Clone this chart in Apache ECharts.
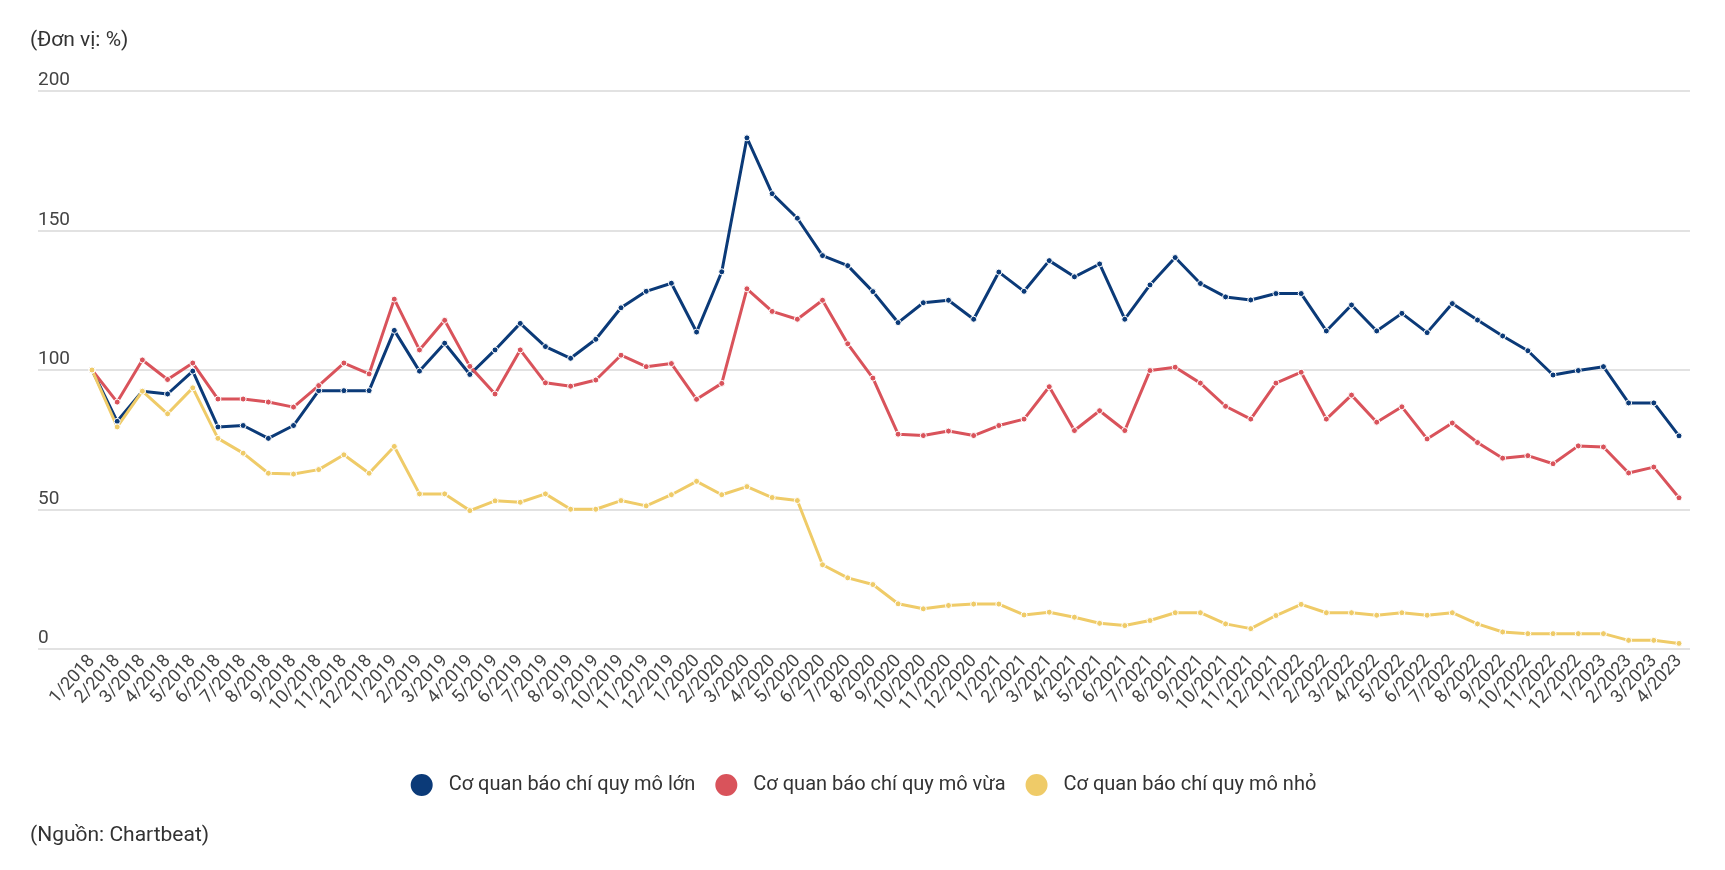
<!DOCTYPE html>
<html>
<head>
<meta charset="utf-8">
<script src="https://cdn.jsdelivr.net/npm/echarts@6/dist/echarts.min.js"></script>
<style>
html,body{margin:0;padding:0;background:#fff;}
#c{width:1725px;height:870px;}
</style>
</head>
<body>
<div id="c"></div>
<script>
const categories = [
 "1/2018","2/2018","3/2018","4/2018","5/2018","6/2018","7/2018","8/2018","9/2018","10/2018","11/2018","12/2018",
 "1/2019","2/2019","3/2019","4/2019","5/2019","6/2019","7/2019","8/2019","9/2019","10/2019","11/2019","12/2019",
 "1/2020","2/2020","3/2020","4/2020","5/2020","6/2020","7/2020","8/2020","9/2020","10/2020","11/2020","12/2020",
 "1/2021","2/2021","3/2021","4/2021","5/2021","6/2021","7/2021","8/2021","9/2021","10/2021","11/2021","12/2021",
 "1/2022","2/2022","3/2022","4/2022","5/2022","6/2022","7/2022","8/2022","9/2022","10/2022","11/2022","12/2022",
 "1/2023","2/2023","3/2023","4/2023"
];
const largeName = "Cơ quan báo chí quy mô lớn";
const mediumName = "Cơ quan báo chí quy mô vừa";
const smallName = "Cơ quan báo chí quy mô nhỏ";
const largeValues = [
 100,81.6,92.4,91.4,99.6,79.6,80.1,75.5,80.1,92.6,92.6,92.6,
 114.2,99.6,109.6,98.4,107.2,116.7,108.4,104.2,111.0,122.3,128.2,131.1,
 113.6,135.2,183.2,163.2,154.4,141.0,137.4,128.1,117.0,124.1,125.0,118.2,
 135.1,128.2,139.2,133.4,138.0,118.2,130.5,140.3,131.0,126.2,125.1,127.4,
 127.4,114.0,123.3,114.0,120.3,113.4,123.8,117.9,112.2,106.9,98.2,99.8,
 101.2,88.2,88.2,76.4
];
const mediumValues = [
 100,88.5,103.6,96.6,102.5,89.6,89.6,88.5,86.7,94.4,102.5,98.6,
 125.4,107.2,117.8,101.3,91.4,107.2,95.4,94.2,96.4,105.3,101.2,102.3,
 89.5,95.2,129.1,121.0,118.2,125.0,109.4,97.1,77.0,76.5,78.1,76.5,
 80.1,82.4,94.0,78.3,85.4,78.3,99.8,101.0,95.3,87.0,82.4,95.3,
 99.2,82.4,91.0,81.3,86.8,75.3,81.0,74.0,68.4,69.3,66.4,72.8,
 72.4,63.1,65.2,54.2
];
const smallValues = [
 100,79.6,92.4,84.3,93.6,75.5,70.2,63.0,62.7,64.3,69.6,63.0,
 72.6,55.6,55.6,49.6,53.1,52.6,55.6,50.1,50.1,53.2,51.3,55.3,
 60.1,55.3,58.2,54.3,53.2,30.2,25.5,23.1,16.2,14.4,15.6,16.1,
 16.1,12.2,13.2,11.4,9.2,8.4,10.2,13.0,13.0,9.0,7.3,12.0,
 16.0,13.0,13.0,12.1,13.0,12.1,13.0,9.0,6.1,5.5,5.5,5.5,
 5.5,3.1,3.1,2.0
];
const yTicks = {min:0, max:200, interval:50};
const unitText = "(Đơn vị: %)";
const sourceText = "(Nguồn: Chartbeat)";

const FONT = "Roboto";
const colors = ["#0b3a78", "#d9535b", "#efcb68"];

function lineSeries(name, data, color) {
  return {
    name: name, type: 'line', data: data,
    xAxisIndex: 1, yAxisIndex: 1,
    symbol: 'circle', symbolSize: 6, showSymbol: true,
    lineStyle: {color: color, width: 3},
    itemStyle: {color: color, borderColor: '#fff', borderWidth: 1},
    emphasis: {disabled: true}
  };
}

const chart = echarts.init(document.getElementById('c'), null, {renderer: 'canvas'});
chart.setOption({
  animation: false,
  backgroundColor: '#fff',
  textStyle: {fontFamily: FONT},
  title: [
    {text: unitText, left: 25, top: 25, textStyle: {fontFamily: FONT, fontSize: 21, fontWeight: 'normal', color: '#333'}},
    {text: sourceText, left: 25, top: 820, textStyle: {fontFamily: FONT, fontSize: 21, fontWeight: 'normal', color: '#333'}}
  ],
  legend: {
    data: [largeName, mediumName, smallName],
    left: 'center', top: 767,
    icon: 'circle', itemWidth: 24, itemHeight: 24, itemGap: 18,
    textStyle: {fontFamily: FONT, fontSize: 20, color: '#333', padding: [0, 0, 0, 10]},
    selectedMode: false
  },
  grid: [
    {left: 38, right: 35, top: 91, bottom: 221, containLabel: false},
    {left: 92, right: 46, top: 91, bottom: 221, containLabel: false}
  ],
  xAxis: [
    {type: 'value', gridIndex: 0, show: false, min: 0, max: 1},
    {type: 'category', gridIndex: 1, data: categories, boundaryGap: false,
     axisLine: {show: false}, axisTick: {show: false},
     axisLabel: {interval: 0, rotate: 48, margin: 9, fontFamily: FONT, fontSize: 18, color: '#444'}}
  ],
  yAxis: [
    {type: 'value', gridIndex: 0, min: yTicks.min, max: yTicks.max, interval: yTicks.interval,
     axisLine: {show: false}, axisTick: {show: false},
     splitLine: {show: true, lineStyle: {color: '#d8d8d8', width: 1.5}},
     axisLabel: {inside: true, margin: 0, verticalAlign: 'bottom', padding: [0, 0, 1, 0],
                 fontFamily: FONT, fontSize: 19, color: '#444'}},
    {type: 'value', gridIndex: 1, min: yTicks.min, max: yTicks.max, interval: yTicks.interval, show: false,
     splitLine: {show: false}}
  ],
  series: [
    lineSeries(largeName, largeValues, colors[0]),
    lineSeries(mediumName, mediumValues, colors[1]),
    lineSeries(smallName, smallValues, colors[2])
  ]
});
</script>
</body>
</html>
